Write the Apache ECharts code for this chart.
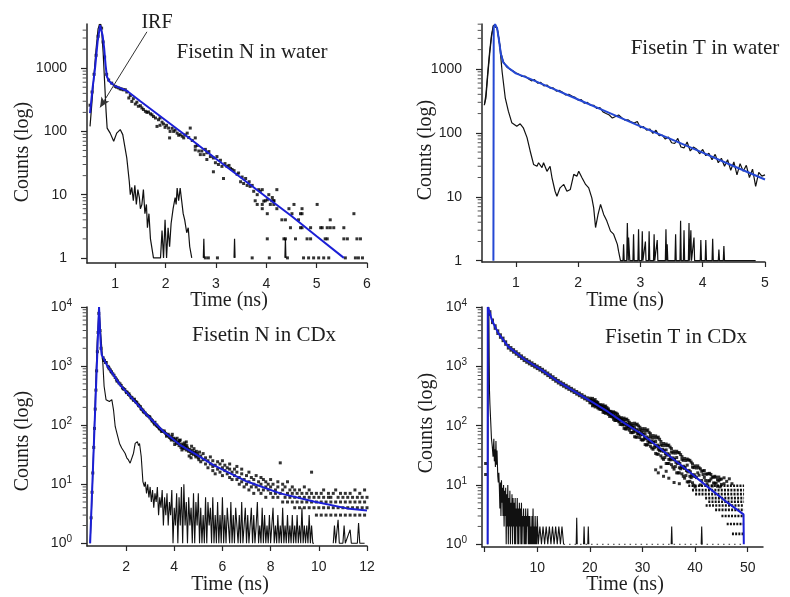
<!DOCTYPE html>
<html><head><meta charset="utf-8">
<script src="https://cdn.jsdelivr.net/npm/echarts@6/dist/echarts.min.js"></script>
<style>html,body{margin:0;padding:0;background:#fff}#c{width:790px;height:597px}</style>
</head><body><div id="c"></div>
<script>
// ---------------- Panel 1 : Fisetin N in water ----------------
const p1Fit = [[0.50,195],[0.55,480],[0.60,1000],[0.65,2600],[0.70,4800],[0.715,5000],[0.75,3300],[0.78,2090],[0.81,1100],[0.835,740],[0.88,620],[0.93,575],[1.00,520],[1.10,485],[1.23,440],[1.50,300],[2.00,150],[2.50,75],[3.00,37],[3.50,18.5],[4.00,9.2],[4.50,4.6],[5.00,2.2],[5.54,1.0]];
const p1Dots = [[0.50,260],[0.54,420],[0.58,800],[0.62,1600],[0.66,3200],[0.70,4700],[0.73,4300],[0.76,2600],[0.79,1500],[0.83,800],[0.87,650],[0.93,580],
[1.00,515],[1.03,500],[1.07,488],[1.10,470],[1.13,468],[1.16,455],[1.20,457],[1.23,420],[1.27,338],[1.30,370],[1.33,298],[1.36,330],[1.40,271],[1.43,290],[1.46,250],[1.50,255],[1.53,235],[1.56,222],[1.60,208],[1.63,200],[1.66,203],[1.70,190],[1.73,183],[1.76,172],[1.80,163],[1.83,120],[1.86,153],[1.89,125],[1.89,163],[1.93,140],[1.96,131],[1.99,116],[2.02,125],[2.06,113],[2.08,79],[2.09,100],[2.13,112],[2.16,100],[2.19,105],[2.23,94],[2.26,87],[2.29,89],[2.33,84],[2.36,79],[2.39,88],[2.43,94],[2.46,80],[2.49,113],[2.53,72],[2.59,79],[2.59,51],[2.59,58],[2.63,60],[2.66,49],[2.69,43],[2.72,49],[2.76,43],[2.79,52],[2.82,46],[2.82,36],[2.86,48],[2.89,40],[2.95,38],[2.95,23],[2.99,32],[3.02,40],[3.05,30],[3.09,35],[3.12,28],[3.15,18],[3.18,31],[3.22,28],[3.26,29],[3.29,26],[3.32,25],[3.36,24],[3.42,21],[3.45,22],[3.49,16],[3.52,19],[3.55,15],[3.59,18],[3.62,14],[3.66,16],[3.68,13.5],[3.72,14],[3.75,11.3],[3.82,10],[3.85,12],[3.88,11.3],[3.92,12],[3.95,7.9],[4.02,8.3],[4.05,10],[4.08,7],[4.12,9],[4.15,8],[4.21,12],
[2.79,1],[2.85,1],[3.03,1],[3.72,1],[4.06,1],[4.42,1],[4.74,1],[4.84,1],[4.94,1],[5.04,1],[5.14,1],[5.24,1],[5.57,1],[5.77,1],[5.83,1],[5.91,1],
[4.02,2],[4.35,2],[4.38,2],[4.58,2],[4.81,2],[4.88,2],[5.17,2],[5.21,2],[5.54,2],[5.61,2],[5.80,2],[5.87,2],
[4.48,3],[4.68,3],[4.71,3],[4.88,3],[5.08,3],[5.11,3],[5.21,3],[5.27,3],[5.34,3],[5.54,3],
[4.31,4],[4.38,4],[4.64,4],[5.27,4],
[4.02,5],[4.51,5],[4.68,5],[4.71,5],[5.74,5],
[3.92,6],[4.21,6],[4.45,6],[4.71,6],
[3.82,7],[3.92,7],[4.15,7],[4.55,7],[5.01,7],
[3.78,8],[3.98,8],[4.11,8],[4.15,8]];
const p1Irf = [[0.50,120],[0.54,300],[0.58,800],[0.62,2000],[0.66,4200],[0.70,5000],[0.73,4000],[0.76,1800],[0.79,600],[0.82,200],[0.84,113],[0.90,94],[0.97,70],[1.03,94],[1.10,107],[1.15,89],[1.23,38],[1.28,16],[1.30,10],[1.33,13],[1.36,8],[1.39,14],[1.42,7],[1.45,12],[1.48,9],[1.50,6],[1.53,7],[1.56,12],[1.59,5],[1.62,7],[1.64,3],[1.67,5],[1.70,2],[1.73,2.1],[1.76,1],[1.80,1],[1.90,1],[1.93,2.7],[1.96,1],[1.99,4],[2.02,1],[2.05,3],[2.08,1.5],[2.11,3.5],[2.15,6],[2.19,9],[2.21,7],[2.23,12.7],[2.26,8],[2.29,12.7],[2.32,8],[2.35,5],[2.38,4],[2.42,2.5],[2.45,3],[2.48,1.5],[2.52,1],[2.53,'-'],[2.75,1],[2.76,2],[2.77,1],[2.78,'-'],[3.36,1],[3.37,2],[3.38,1],[3.39,'-'],[4.37,1],[4.38,2],[4.39,1]];
const p1Arrow = [[1.63,3760],[0.70,240]];
const p1Minor = [2,3,4,5,6,7,8,9,20,30,40,50,60,70,80,90,200,300,400,500,600,700,800,900,2000,3000,4000];

// ---------------- Panel 2 : Fisetin T in water ----------------
const p2Fit = [[0.64,1],[0.645,4400],[0.667,5000],[0.70,4300],[0.73,2800],[0.76,1700],[0.80,1250],[0.88,1040],[1.00,850],[1.20,716],[1.50,537],[2.00,332],[2.50,205],[3.00,126],[3.50,79],[4.00,49],[4.50,30],[5.00,18.6]];
const p2Data = [[0.495,277],[0.52,350],[0.55,800],[0.58,1700],[0.61,3200],[0.64,4700],[0.667,5000],[0.70,4400],[0.73,2900],[0.76,1800],[0.80,1300],[0.85,1080],[0.90,990],[0.95,930],[1.00,870],[1.05,820],[1.10,760],[1.15,770],[1.20,700],[1.25,650],[1.30,680],[1.35,600],[1.40,615],[1.45,540],[1.50,560],[1.55,500],[1.60,505],[1.65,450],[1.70,460],[1.75,430],[1.80,390],[1.85,400],[1.90,375],[1.95,360],[2.00,325],[2.05,330],[2.10,290],[2.15,300],[2.20,268],[2.25,270],[2.30,240],[2.35,248],[2.40,212],[2.45,200],[2.50,190],[2.55,170],[2.60,180],[2.65,190],[2.70,172],[2.75,158],[2.80,160],[2.85,148],[2.90,142],[2.95,150],[3.00,120],[3.05,125],[3.10,110],[3.15,115],[3.20,98],[3.25,110],[3.30,90],[3.35,92],[3.40,80],[3.45,86],[3.50,70],[3.55,68],[3.60,82],[3.65,60],[3.70,58],[3.75,72],[3.80,52],[3.85,60],[3.90,56],[3.95,47],[4.00,55],[4.05,44],[4.10,48],[4.15,38],[4.20,46],[4.25,34],[4.30,40],[4.35,30],[4.40,38],[4.45,26],[4.50,35],[4.55,22],[4.60,33],[4.65,25],[4.70,31],[4.75,20],[4.80,27],[4.85,14.5],[4.90,24],[4.95,21],[5.00,22]];
const p2Irf = [[0.495,270],[0.52,400],[0.55,900],[0.58,1900],[0.61,3400],[0.64,4800],[0.667,5000],[0.70,4300],[0.74,2400],[0.78,900],[0.83,353],[0.88,218],[0.935,144],[1.015,127],[1.07,138],[1.12,120],[1.18,84],[1.23,52],[1.285,32],[1.34,30],[1.365,34],[1.42,28.5],[1.445,34],[1.50,25],[1.55,30],[1.58,20],[1.63,12.2],[1.66,10.2],[1.71,13.8],[1.77,15.6],[1.82,12.2],[1.875,13],[1.93,22.4],[1.98,21],[2.01,25],[2.06,20],[2.12,15.6],[2.17,13.8],[2.22,9.6],[2.25,6.7],[2.28,3.3],[2.32,5.3],[2.36,7.6],[2.41,5.3],[2.46,4.2],[2.52,2.9],[2.57,2.6],[2.63,1.8],[2.65,1.4],[2.68,1],
[2.72,1],[2.73,1.8],[2.74,1],[2.78,1],[2.79,3.9],[2.805,1],[2.81,2.3],[2.83,1],[2.88,1],[2.89,2.6],[2.90,1],[2.96,1],[2.97,3.1],[2.98,1],[3.02,1],[3.03,2.9],[3.04,1],[3.07,1],[3.08,2.0],[3.09,1],[3.13,1],[3.14,2.9],[3.15,1],[3.21,1],[3.22,2.6],[3.23,1],[3.26,1],[3.27,2.1],[3.28,1],[3.40,1],[3.41,3.1],[3.42,1],[3.43,1.8],[3.44,1],[3.555,1],[3.565,2.6],[3.575,1],[3.635,1],[3.645,4.2],[3.655,1],[3.69,1],[3.70,3.0],[3.71,1],[3.77,1],[3.78,3.9],[3.79,1],[3.80,1],[3.81,3.0],[3.82,1],[3.85,1],[3.86,2.3],[3.87,1],[3.96,1],[3.97,2.1],[3.98,1],[4.04,1],[4.05,2.1],[4.06,1],[4.15,1],[4.16,2.2],[4.17,1],[4.25,1],[4.26,1.5],[4.27,1],[4.33,1],[4.34,1.7],[4.35,1],[4.85,1]];
const p2Minor = [2,3,4,5,6,7,8,9,20,30,40,50,60,70,80,90,200,300,400,500,600,700,800,900,2000,3000,4000,5000];

// ---------------- Panel 3 : Fisetin N in CDx ----------------
const p3Fit = [[0.51,1],[0.88,10000],[0.92,4000],[0.96,2000],[0.99,1550],[1.20,1050],[1.48,710],[1.75,480],[2.17,309],[2.86,150],[3.55,78],[4.25,46],[4.94,31.4],[5.63,21],[7.02,11.1],[8.40,7.0],[9.79,5.1],[11.17,3.9],[12.0,3.6]];
const p3Dots = [[0.55,2.7],[0.59,7.3],[0.62,15.5],[0.66,42],[0.69,88],[0.72,187],[0.75,392],[0.78,830],[0.81,1750],[0.84,3700],[0.87,7800],[0.92,4000],[0.96,2000],
[1.05,1380],[1.10,1250],[1.15,1150],[1.25,990],[1.30,900],[1.35,860],[1.40,790],[1.45,740],[1.55,640],[1.60,600],[1.65,560],[1.70,520],[1.80,470],[1.85,430],[1.90,410],[1.95,400],[2.00,370],[2.05,360],[2.10,330],[2.15,320],[2.20,300],[2.25,290],[2.30,270],[2.35,275],[2.40,250],[2.45,240],[2.50,225],[2.55,210],[2.60,205],[2.65,185],[2.70,180],[2.75,165],[2.80,160],[2.90,145],[2.95,140],[3.00,132],[3.05,125],[3.10,118],[3.15,110],[3.20,112],[3.25,100],[3.30,95],[3.35,92],[3.40,86],[3.45,83],[3.50,80],[3.60,76],[3.65,72],[3.70,68],[3.75,70],[3.80,62],[3.85,60],[3.90,64],[3.95,57],[4.00,54],[4.05,58],[4.10,49],[4.15,52],[4.20,45],[4.30,48],[4.35,42],[4.40,40],[4.45,46],[4.50,38],[4.55,41],[4.60,36],[4.65,39],[4.70,33],[4.75,37],[4.80,32],[4.85,35],[4.90,29],[4.95,33],[5.00,28],
[1.08,1250],[1.18,1150],[1.28,950],[1.38,810],[1.50,700],[1.62,560],[1.75,500],[1.88,415],[2.02,355],[2.12,340],[2.22,290],[2.32,262],[2.42,245],[2.52,215],[2.62,190],[2.72,170],[2.85,150],[2.98,138],[3.08,118],[3.18,104],[3.28,100],[3.38,88],[3.48,78],[3.58,80],[3.68,65],[3.78,66],[3.88,56],[3.98,60],[4.08,53],[4.18,50],[4.28,42],[4.38,46],[4.48,42],[4.58,38],[4.68,36],[4.78,34],[4.88,31],[4.98,31],
[3.92,70],[4.02,47],[4.12,60],[4.22,55],[4.32,38],[4.42,50],[4.52,45],[4.62,30],[4.72,44],[4.82,40],[4.92,36],[5.02,26],[4.25,56],[4.50,52],[4.70,28],[5.05,35],
[5.1,30],[5.1,24],[5.2,26],[5.2,33],[5.3,22],[5.3,28],[5.4,25],[5.4,19],[5.5,22],[5.5,29],[5.6,20],[5.6,25],[5.6,17],[5.7,21],[5.7,15],[5.8,18],[5.8,24],[5.9,16],[5.9,22],[6.0,19],[6.0,14],[6.0,25],[6.1,17],[6.1,21],[6.2,15],[6.2,19],[6.3,13],[6.3,18],[6.3,22],[6.4,16],[6.4,12],[6.5,14],[6.5,18],[6.6,12],[6.6,16],[6.6,20],[6.7,13],[6.7,10],[6.8,11],[6.8,15],[6.8,18],[6.9,12],[6.9,9],[7.0,10],[7.0,14],[7.1,11],[7.1,8],[7.1,16],[7.2,9],[7.2,13],[7.3,10],[7.3,12],[7.3,7],[7.4,9],[7.4,14],[7.5,8],[7.5,11],[7.6,10],[7.6,7],[7.6,13],[7.7,8],[7.7,12],[7.8,9],[7.8,6],[7.8,11],[7.9,8],[7.9,10],[8.0,7],[8.0,9],[8.0,12],[8.1,6],[8.1,10],[8.2,8],[8.2,7],[8.3,9],[8.3,6],[8.3,11],[8.4,7],[8.4,23],[8.5,8],[8.5,5],[8.5,10],[8.6,6],[8.6,9],[8.7,7],[8.7,5],[8.7,11],[8.8,6],[8.8,8],[8.9,5],[8.9,7],[8.9,9],[9.0,6],[9.0,8],[9.0,4],[9.1,7],[9.1,5],[9.2,6],[9.2,8],[9.2,4],[9.3,5],[9.3,7],[9.4,6],[9.4,4],[9.4,9],[9.5,5],[9.5,7],[9.6,4],[9.6,6],[9.6,8],[9.7,5],[9.7,16],[9.7,7],[9.8,6],[9.8,4],[9.9,5],[9.9,7],[9.9,3],[10.0,4],[10.0,6],[10.1,5],[10.1,7],[10.1,3],[10.2,6],[10.2,4],[10.2,8],[10.3,5],[10.3,3],[10.4,4],[10.4,6],[10.4,7],[10.5,5],[10.5,3],[10.5,6],[10.6,4],[10.6,7],[10.7,5],[10.7,3],[10.7,8],[10.8,4],[10.8,6],[10.9,5],[10.9,3],[10.9,7],[11.0,4],[11.0,6],[11.1,3],[11.1,5],[11.1,7],[11.2,4],[11.2,6],[11.3,5],[11.3,3],[11.3,7],[11.4,4],[11.4,6],[11.5,3],[11.5,5],[11.5,8],[11.6,4],[11.6,6],[11.7,5],[11.7,3],[11.7,7],[11.8,4],[11.8,6],[11.9,3],[11.9,5],[11.9,8],[12.0,4],[12.0,6]];
const p3Irf = [[0.51,1],[0.60,8],[0.70,150],[0.80,2500],[0.88,10000],[0.95,3600],[1.03,1280],[1.09,455],[1.17,270],[1.24,255],[1.31,251],[1.36,262],[1.41,270],[1.48,182],[1.55,95],[1.62,73],[1.73,49],[1.82,41],[1.96,33.5],[2.03,28],[2.10,25.8],[2.17,22.7],[2.24,24],[2.31,33.5],[2.38,49],[2.43,50],[2.47,52.6],[2.52,45],[2.56,49],[2.63,29.5],[2.70,11.1],[2.76,9.1],
[2.80,11],[2.85,7],[2.90,10],[2.95,6],[3.00,9],[3.05,5],[3.10,8],[3.15,4],[3.20,7],[3.25,5],[3.30,9],[3.35,3],[3.40,6],[3.45,4],[3.50,8],[3.55,2],[3.60,6],[3.65,3],[3.70,7],[3.75,2],[3.80,5],[3.85,3],[3.90,8],[3.95,1],[4.00,4],[4.05,2],[4.10,7],[4.15,1],[4.20,6],[4.25,2],[4.30,9],[4.35,1],[4.40,10],[4.45,2],[4.50,5],[4.55,1],[4.60,6],[4.65,2],[4.70,4],[4.75,1],[4.80,7],[4.85,1],[4.90,5],[4.95,2],[5.00,7],[5.05,1],[5.10,4],[5.15,1],[5.20,3],[5.25,1],[5.30,6],[5.35,1],[5.40,5],[5.45,2],[5.50,4],[5.55,1],[5.60,6],[5.65,1],[5.70,3],[5.75,1],[5.80,5],[5.85,1],[5.90,3],[5.95,1],
[6.00,6],[6.05,1],[6.10,3],[6.15,1],[6.20,4],[6.25,2],[6.30,1],[6.35,5],[6.40,1],[6.45,3],[6.50,1],[6.55,4],[6.60,2],[6.65,1],[6.70,3],[6.75,1],[6.80,5],[6.85,1],[6.90,2],[6.95,4],[7.00,1],[7.05,3],[7.10,1],[7.15,2],[7.20,4],[7.25,1],[7.30,3],[7.35,1],[7.40,2],[7.45,5],[7.50,1],[7.55,2],[7.60,1],[7.65,4],[7.70,1],[7.75,3],[7.80,1],[7.85,2],[7.90,1],[7.95,3],[8.00,1],[8.05,2],[8.10,4],[8.15,1],[8.20,2],[8.25,1],[8.30,3],[8.35,1],[8.40,2],[8.45,1],[8.50,4],[8.55,1],[8.60,2],[8.65,1],[8.70,3],[8.75,1],[8.80,2],[8.85,1],[8.90,3],[8.95,1],[9.00,2],[9.05,1],[9.10,3],[9.15,1],[9.20,2],[9.25,1],[9.30,4],[9.35,1],[9.40,2],[9.45,1],[9.50,2],[9.55,1],[9.60,3],[9.65,1],[9.70,2],[9.75,1],[9.80,1],[9.85,'-'],
[10.6,1],[10.65,2],[10.7,1],[10.8,2.5],[10.85,1],[11.0,1],[11.05,2],[11.1,1],[11.3,1.7],[11.35,1],[11.6,1],[11.65,2.2],[11.7,1],[11.9,1]];
const p3Minor = [2,3,4,5,6,7,8,9,20,30,40,50,60,70,80,90,200,300,400,500,600,700,800,900,2000,3000,4000,5000,6000,7000,8000,9000];

// ---------------- Panel 4 : Fisetin T in CDx ----------------
const p4Fit = [[0.57,1],[0.60,10000],[0.82,9800],[1.01,7900],[1.33,6150],[1.96,4700],[2.59,3630],[3.54,2800],[4.49,2150],[7.66,1290],[10.83,870],[14.0,550],[17.2,372],[20.4,251],[23.5,170],[26.7,108],[29.8,73],[33.0,43.5],[36.2,25.8],[39.35,15.4],[42.5,9.1],[45.7,5.4],[49.2,3.2],[49.25,1]];
const p4Irf = [[0.58,1],[0.64,40],[0.70,2500],[0.80,10000],[0.86,1500],[0.92,400],[1.00,235],[1.15,120],[1.30,60],[1.45,45],[1.60,30],[1.75,60],[1.85,25],[1.95,40],[2.05,20],[2.15,55],[2.25,22],[2.35,38],[2.50,14],[2.60,11],[2.70,16],
[2.8,9],[2.9,4],[3.0,11],[3.1,3],[3.2,12],[3.3,5],[3.4,9],[3.5,3],[3.6,10],[3.7,2],[3.8,8],[3.9,3],[4.0,9],[4.1,1],[4.2,7],[4.3,2],[4.4,10],[4.5,1],[4.6,6],[4.7,2],[4.8,8],[4.9,1],[5.0,5],[5.1,2],[5.2,7],[5.3,1],[5.4,6],[5.5,2],[5.6,5],[5.7,1],[5.8,6],[5.9,1],[6.0,4],[6.1,2],[6.2,6],[6.3,1],[6.4,4],[6.5,1],[6.6,5],[6.7,2],[6.8,4],[6.9,1],[7.0,5],[7.1,1],[7.2,3],[7.3,2],[7.4,4],[7.5,1],[7.6,3],[7.7,1],[7.8,4],[7.9,1],[8.0,3],[8.1,2],[8.2,4],[8.3,1],[8.4,3],[8.5,1],[8.6,3],[8.7,1],[8.8,2],[8.9,1],[9.0,3],[9.1,1],[9.2,4],[9.3,1],[9.4,2],[9.5,1],[9.6,3],[9.7,1],[9.8,2],[9.9,1],[10.0,3],
[10.2,1],[10.5,2],[10.8,1],[11.1,2],[11.4,1],[11.7,2],[12.0,1],[12.3,2],[12.6,1],[12.9,2],[13.2,1],[13.5,2],[13.8,1],[14.1,2],[14.4,1],[14.7,2],[15.0,1],[15.1,'-'],[17.4,1],[17.5,2.8],[17.6,1],[17.7,'-'],[18.8,1],[18.9,2],[19.0,1],[19.1,'-'],[19.6,1],[19.7,2],[19.8,1],[19.9,'-'],[35.45,1],[35.55,2],[35.65,1],[35.7,'-'],[41.15,1],[41.25,2],[41.35,1]];
const p4IrfFloor = [[15,1],[49,1]];
const p4Dots = [[0.19,23],[0.19,15],
[1.0,8340],[1.5,6040],[2.0,4830],[2.5,3960],[3.0,3400],[3.5,2990],[4.0,2590],[4.5,2250],[5.0,2070],[5.5,1910],[6.0,1760],[6.5,1630],[7.0,1500],[7.5,1390],[8.0,1300],[8.5,1220],[9.0,1145],[9.5,1076],[10.0,1012],[10.5,953],[11.0,891],[11.5,831],[12.0,772],[12.5,718],[13.0,667],[13.5,621],[14.0,578],[14.5,542],[15.0,510],[15.5,480],[16.0,452],[16.5,425],[17.0,400],[17.5,376],[18.0,354],[18.5,333],[19.0,313],[19.5,295],
[1.0,7540],[1.5,5460],[2.0,4370],[2.5,3580],[3.0,3080],[3.5,2710],[4.0,2350],[4.5,2030],[5.0,1870],[5.5,1730],[6.0,1600],[6.5,1470],[7.0,1360],[7.5,1250],[8.0,1170],[8.5,1100],[9.0,1035],[9.5,974],[10.0,916],[10.5,863],[11.0,807],[11.5,751],[12.0,698],[12.5,650],[13.0,603],[13.5,561],[14.0,523],[14.5,490],[15.0,462],[15.5,434],[16.0,409],[16.5,385],[17.0,362],[17.5,340],[18.0,320],[18.5,301],[19.0,283],[19.5,267],
[20.0,290],[20.0,243],[20.0,264],[20.5,258],[20.5,216],[20.5,288],[21.0,275],[21.0,224],[21.0,207],[21.5,234],[21.5,199],[21.5,247],[22.0,226],[22.0,189],[22.0,205],[22.5,201],[22.5,168],[22.5,224],[23.0,214],[23.0,174],[23.0,161],[23.5,182],[23.5,155],[23.5,192],[24.0,174],[24.0,145],[24.0,158],[24.5,153],[24.5,128],[24.5,171],[25.0,162],[25.0,132],[25.0,122],[25.5,136],[25.5,116],[25.5,144],[26.0,136],[26.0,105],[26.0,119],[26.5,117],[26.5,90],[26.5,134],[27.0,129],[27.0,97],[27.0,88],[27.5,107],[27.5,84],[27.5,114],[28.0,109],[28.0,76],[28.0,91],[28.5,92],[28.5,65],[28.5,110],[29.0,106],[29.0,74],[29.0,64],[29.5,86],[29.5,63],[29.5,94],[30.0,89],[30.0,57],[30.0,71],[30.5,73],[30.5,48],[30.5,89],[31.0,85],[31.0,55],[31.0,48],[31.5,66],[31.5,45],[31.5,73],[32.0,68],[32.0,40],[32.0,52],[32.5,54],[32.5,34],[32.5,67],[33.0,64],[33.0,40],[33.0,33],[33.5,48],[33.5,31],[33.5,54],[34.0,50],[34.0,27],[34.0,37],[34.5,39],[34.5,23],[34.5,49],[35.0,47],[35.0,27],[35.0,23],[35.5,36],[35.5,22],[35.5,41],[36.0,37],[36.0,18.5],[36.0,26.5],[36.5,29],[36.5,16],[36.5,37],[37.0,35],[37.0,19.5],[37.0,16],[37.5,27],[37.5,15.4],[37.5,30],[38.0,28],[38.0,13],[38.0,19],[38.5,21.6],[38.5,11.3],[38.5,27.4],[39.0,26],[39.0,14],[39.0,11.5],[39.5,20],[39.5,10.9],[39.5,22.7],[40.0,21],[40.0,9.2],[40.0,13.9],[40.5,16],[40.5,21],[41.0,18.7],[41.0,10],[41.5,15],[41.5,17.3],[42.0,15.3],[42.0,11.9],[42.5,15.5],[42.5,11.8],[43.0,12.6],[43.0,15],[43.5,13.5],[43.5,10.8],[44.0,13.5],[44.0,10.7],[44.5,11.7],[44.5,13.6],[45.0,12.6],[45.0,10.2],[45.5,13.2],[45.5,10.5],[46.0,11.5],[46.5,12.7],[47.0,10.5],
[32.5,18],[33.0,16],[33.5,20],[34.0,14],[34.5,17],[35.0,13],[36.0,11],[37.0,10.5],
[20.25,271],[20.25,243],[20.75,223],[20.75,264],[21.25,253],[21.25,219],[21.75,191],[21.75,220],[22.25,215],[22.25,187],[22.75,166],[22.75,211],[23.25,201],[23.25,171],[23.75,143],[23.75,174],[24.25,167],[24.25,140],[24.75,122],[24.75,165],[25.25,156],[25.25,125],[25.75,105],[25.75,133],[26.25,128],[26.25,103],[26.75,88],[26.75,127],[27.25,122],[27.25,96],[27.75,77],[27.75,103],[28.25,101],[28.25,77],[28.75,64],[28.75,103],[29.25,99],[29.25,72],[29.75,58],[29.75,82],[30.25,82],[30.25,58],[30.75,47],[30.75,82],[31.25,77],[31.25,53],[31.75,42],[31.75,62],[32.25,62],[32.25,42.5],[32.75,33],[32.75,62],[33.25,59],[33.25,38],[33.75,28.5],[33.75,46],[34.25,46],[34.25,29],[34.75,23],[34.75,46],[35.25,43.5],[35.25,26.4],[35.75,20],[35.75,34.6],[36.25,34.4],[36.25,20.4],[36.75,16],[36.75,35],[37.25,32.5],[37.25,18.7],[37.75,14],[37.75,26],[38.25,25.8],[38.25,14.4],[38.75,11.2],[38.75,26.4],[39.25,24.3],[39.25,13.3],[39.75,9.9],[39.75,19.6],[40.25,19.3],[40.25,13.3],[40.75,19.5],[40.75,14.6],[41.25,17],[41.25,11.9],[41.75,17.5],[41.75,13.4],[42.25,15.2],[42.25,10.5],[42.75,15.7],[42.75,11.7],[43.25,13.6],[43.25,9.6],[43.75,14],[43.75,10.7],[44.25,12.2],[44.25,9.5],[44.75,12.4],[44.75,9.3],
[20.1,271],[20.35,243],[20.6,233],[20.85,249],[21.1,239],[21.35,214],[21.6,205],[21.85,220],[22.1,211],[22.35,188],[22.6,181],[22.85,194],[23.1,186],[23.35,166],[23.6,159],[23.85,170],[24.1,162],[24.35,144],[24.6,138],[24.85,147],[25.1,140],[25.35,125],[25.6,119],[25.85,127],[26.1,122],[26.35,108],[26.6,103],[26.85,110],[27.1,106],[27.35,95],[27.6,91],[27.85,97],[28.1,93],[28.35,83.5],[28.6,80],[28.85,86],[29.1,82],[29.35,73.6],[29.6,70.6],[29.85,75.5],[30.1,71.8],[30.35,63.7],[30.6,60.6],[30.85,64.5],[31.1,61.4],[31.35,54.4],[31.6,51.8],[31.85,55],[32.1,52.4],[32.35,46.5],[32.6,44.2],[32.85,47],[33.1,44.7],[33.35,39.6],[33.6,37.5],[33.85,39.8],[34.1,37.9],[34.35,33.5],[34.6,31.8],[34.85,33.7],[35.1,32],[35.35,28.4],[35.6,27],[35.85,28.6],[36.1,27.1],[36.35,24.1],[36.6,22.9],[36.85,24.4],[37.1,23.1],[37.35,20.5],[37.6,19.5],[37.85,20.7],[38.1,19.7],[38.35,17.5],[38.6,16.6],[38.85,17.6],[39.1,16.7],[39.35,14.9],[39.6,14.1],[39.85,14.9]];
const p4RowLevel = [9.7, 8.2, 7.0, 6.0, 5.2, 4.5, 3.8, 3.0, 2.2, 1.5];
const p4RowStart = [38.7, 39.4, 40.0, 41.9, 42.5, 42.0, 43.8, 45.0, 46.0, 47.0];
const p4RowEnd = [49.3, 49.3, 49.3, 49.3, 49.3, 49.3, 49.3, 49.3, 49.3, 49.3];
const p4Minor = p3Minor;

// ---------------- Text ----------------
const titles = ['Fisetin N in water', 'Fisetin T in water', 'Fisetin N in CDx', 'Fisetin T in CDx'];
const xName = 'Time (ns)';
const yName = 'Counts (log)';
const irfLabel = 'IRF';

// ---------------- Build ----------------
const AX = '#262626';
const BLUE = '#1b1fd6';
const BLUE2 = '#2548d4';
const SANS = 'Liberation Sans';
const SERIF = 'Liberation Serif';
const xMins = [0.44, 0.457, 0.38, -0.5];

function xAx(gi, min, max, showMax) {
  return {type:'value', gridIndex:gi, min:min, max:max,
    axisLine:{show:true, onZero:false, lineStyle:{color:AX, width:1.5}},
    axisTick:{show:true, inside:false, length:5, lineStyle:{color:AX, width:1.2}},
    minorTick:{show:false},
    axisLabel:{show:true, margin:14, color:'#222', fontFamily:SANS, fontSize:14, showMinLabel:false, showMaxLabel:showMax,
      formatter:function(v){ return v === 0 ? '' : String(Math.round(v*100)/100); }},
    splitLine:{show:false}};
}
function yAx(gi, min, max, sup) {
  const lab = sup ? {show:true, margin:15, color:'#222', fontFamily:SANS, fontSize:14, showMinLabel:false, showMaxLabel:true,
      formatter:function(v){ return '{b|10}{s|' + Math.round(Math.log10(v)) + '}'; },
      rich:{b:{fontFamily:SANS, fontSize:14, color:'#222', lineHeight:18, verticalAlign:'middle'},
            s:{fontFamily:SANS, fontSize:10, color:'#222', lineHeight:10, verticalAlign:'top'}}}
    : {show:true, margin:20, color:'#222', fontFamily:SANS, fontSize:14, showMinLabel:false, showMaxLabel:false,
      formatter:function(v){ return String(Math.round(v)); }};
  return {type:'log', logBase:10, gridIndex:gi, min:min, max:max,
    axisLine:{show:true, onZero:false, lineStyle:{color:AX, width:1.5}},
    axisTick:{show:true, inside:false, length:6, lineStyle:{color:AX, width:1.2}},
    minorTick:{show:false},
    axisLabel:lab, splitLine:{show:false}, minorSplitLine:{show:false}};
}
function line(gi, data, color, width, z, extra) {
  return Object.assign({type:'line', xAxisIndex:gi, yAxisIndex:gi, data:data, symbol:'none', showSymbol:false,
    lineStyle:{color:color, width:width}, itemStyle:{color:color}, z:z, silent:true, connectNulls:false, animation:false}, extra || {});
}
function dots(gi, data, size) {
  return {type:'scatter', xAxisIndex:gi, yAxisIndex:gi, data:data, symbol:'rect', symbolSize:size,
    itemStyle:{color:'#000'}, z:3, silent:true, animation:false, large:false};
}
// minor log ticks drawn at the left axis, positioned by the y scale
function minorTicks(gi, vals) {
  return {type:'scatter', xAxisIndex:gi, yAxisIndex:gi, clip:false, silent:true, animation:false, z:5,
    data:vals.map(function(v){ return [xMins[gi], v]; }),
    symbol:'rect', symbolSize:[3.5, 1], symbolOffset:[-2.6, 0], itemStyle:{color:AX}};
}
function txt(x, y, s, size, rot) {
  return {type:'text', x:x, y:y, rotation:rot || 0, silent:true, z:100,
    style:{text:s, font:size + 'px "' + SERIF + '"', fill:'#1e1e1e', align:'center', verticalAlign:'middle'}};
}

const rowSeries = [];
p4RowLevel.forEach(function(lv, i){
  rowSeries.push(line(3, [[p4RowStart[i], lv], [p4RowEnd[i], lv]], '#111', 2.6, 3, {lineStyle:{color:'#111', width:2.6, type:[2, 1.2]}}));
});

const option = {
  animation:false,
  backgroundColor:'#fff',
  textStyle:{fontFamily:SANS},
  grid:[
    {left:87, top:24, width:280, height:239, containLabel:false, outerBoundsMode:'none'},
    {left:482, top:24, width:283, height:238, containLabel:false, outerBoundsMode:'none'},
    {left:87, top:307, width:280, height:239, containLabel:false, outerBoundsMode:'none'},
    {left:482, top:307, width:281, height:240, containLabel:false, outerBoundsMode:'none'}
  ],
  xAxis:[xAx(0, xMins[0], 6, true), xAx(1, xMins[1], 5, true), xAx(2, xMins[2], 12, true), xAx(3, xMins[3], 52.9, false)],
  yAxis:[yAx(0, 0.83, 5000, false), yAx(1, 0.955, 5030, false), yAx(2, 0.9, 10000, true), yAx(3, 0.9, 10000, true)],
  series:[
    line(0, p1Irf, '#111', 1.2, 2, {markLine:{silent:true, symbol:['none','arrow'], symbolSize:[7,10], animation:false,
      lineStyle:{color:'#333', width:1, type:'solid'}, label:{show:false},
      data:[[{coord:p1Arrow[0]}, {coord:p1Arrow[1]}]]}}),
    dots(0, p1Dots, 3),
    line(0, p1Fit, BLUE, 2, 4),
    minorTicks(0, p1Minor),
    line(1, p2Irf, '#111', 1.2, 2),
    line(1, p2Data, '#111', 1.2, 3),
    line(1, p2Fit, BLUE2, 2, 4),
    minorTicks(1, p2Minor),
    line(2, p3Irf, '#111', 1.1, 2),
    dots(2, p3Dots, 3),
    line(2, p3Fit, BLUE, 2, 4),
    minorTicks(2, p3Minor),
    line(3, p4Irf, '#111', 1.1, 2),
    line(3, p4IrfFloor, '#333', 1, 2, {lineStyle:{color:'#333', width:1, type:[1.5, 4]}}),
    dots(3, p4Dots, 3),
    minorTicks(3, p4Minor)
  ].concat(rowSeries).concat([line(3, p4Fit, BLUE, 2, 4)]),
  graphic:[
    txt(252, 52, titles[0], 21), txt(705, 48, titles[1], 21), txt(264, 335, titles[2], 21), txt(676, 337, titles[3], 21),
    txt(229, 301, xName, 20), txt(625, 301, xName, 20), txt(230, 585, xName, 20), txt(625, 585, xName, 20),
    txt(23, 152, yName, 20, Math.PI/2), txt(426, 150, yName, 20, Math.PI/2), txt(23, 441, yName, 20, Math.PI/2), txt(427, 423, yName, 20, Math.PI/2),
    txt(157, 23, irfLabel, 20)
  ]
};
const chart = echarts.init(document.getElementById('c'), null, {renderer:'canvas'});
chart.setOption(option);
</script></body></html>
